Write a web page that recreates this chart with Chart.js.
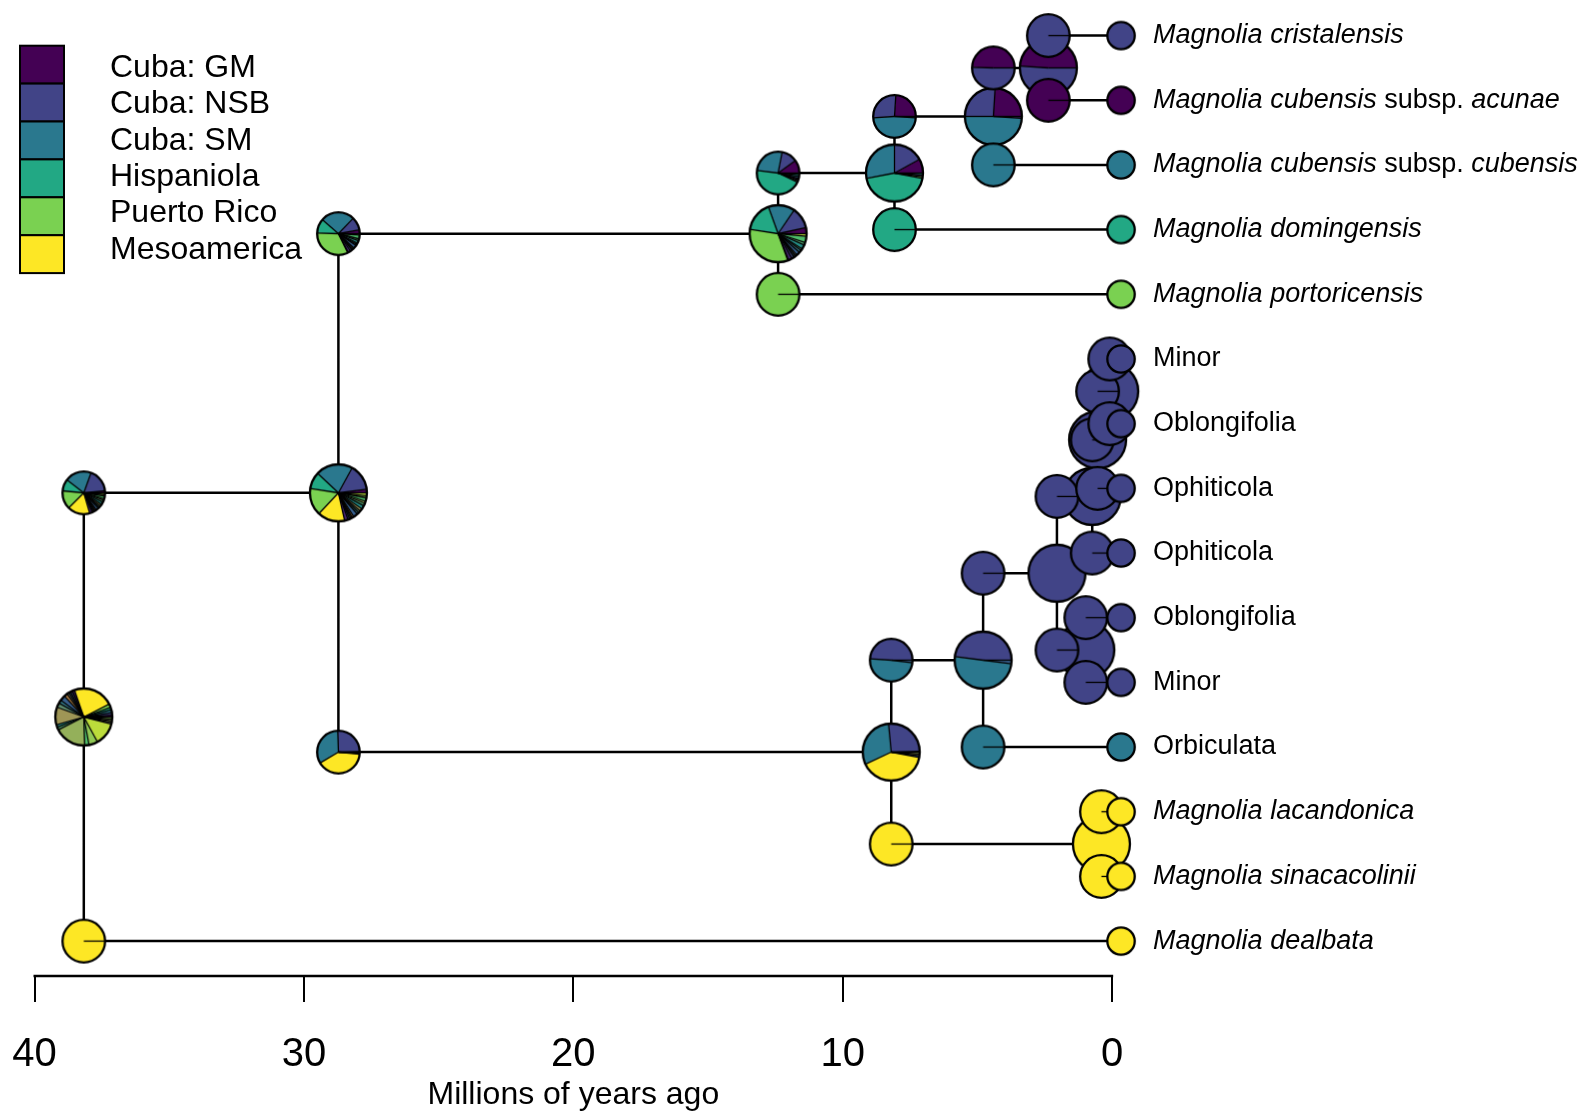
<!DOCTYPE html>
<html>
<head>
<meta charset="utf-8">
<script src="https://cdn.jsdelivr.net/npm/chart.js@4/dist/chart.umd.min.js"></script>
<style>
  html, body { margin: 0; padding: 0; background: #fff; }
  canvas { display: block; }
</style>
</head>
<body>
<canvas id="c" width="1585" height="1113"></canvas>
<script>
// areas (legend order) and their colours
var areaKeys = ["GM", "NSB", "SM", "Hisp", "PR", "Meso"];
var areaNames = ["Cuba: GM", "Cuba: NSB", "Cuba: SM", "Hispaniola", "Puerto Rico", "Mesoamerica"];
var areaColors = ["#440154", "#414487", "#2A788E", "#22A884", "#7AD151", "#FDE725"];

// tips, top to bottom; label pieces are [text, italic]
var tipLabels = [
  [["Magnolia cristalensis", 1]],
  [["Magnolia cubensis", 1], [" subsp. ", 0], ["acunae", 1]],
  [["Magnolia cubensis", 1], [" subsp. ", 0], ["cubensis", 1]],
  [["Magnolia domingensis", 1]],
  [["Magnolia portoricensis", 1]],
  [["Minor", 0]],
  [["Oblongifolia", 0]],
  [["Ophiticola", 0]],
  [["Ophiticola", 0]],
  [["Oblongifolia", 0]],
  [["Minor", 0]],
  [["Orbiculata", 0]],
  [["Magnolia lacandonica", 1]],
  [["Magnolia sinacacolinii", 1]],
  [["Magnolia dealbata", 1]]
];
var tipStates = ["NSB", "GM", "SM", "Hisp", "PR", "NSB", "NSB", "NSB", "NSB", "NSB", "NSB", "SM", "Meso", "Meso", "Meso"];
var tipAge = -0.33;

// internal nodes (age in Ma) and their two children (node name or tip index)
var nodeNames = ["root", "A", "B", "C", "D", "E", "F", "G", "H", "I", "J", "K", "L1", "L2"];
var nodeAges = [38.17, 28.72, 12.40, 8.08, 4.41, 2.37, 8.20, 4.79, 0.40, 2.05, 0.74, 0.98, 0.54, 0.09];
var nodeChildren = [["A", 14], ["B", "F"], ["C", 4], ["D", 3], ["E", 2], [0, 1], ["G", "H"],
                    ["I", 11], [12, 13], ["J", "K"], ["L1", 8], [9, 10], ["L2", 7], [5, 6]];

// ancestral range probabilities at nodes
var nodeProbs = [
  {GM: .01, NSB: .015, SM: .015, Hisp: .015, PR: .02, Meso: .228,
   "GM+NSB": .012, "GM+SM": .012, "GM+Hisp": .01, "GM+PR": .012, "GM+Meso": .02,
   "NSB+SM": .03, "NSB+Hisp": .02, "NSB+PR": .025, "NSB+Meso": .10,
   "SM+Hisp": .015, "SM+PR": .015, "SM+Meso": .18, "Hisp+PR": .025, "Hisp+Meso": .05, "PR+Meso": .13,
   "NSB+SM+Meso": .01, "NSB+PR+Meso": .01, "SM+PR+Meso": .01, "Hisp+PR+Meso": .01},
  {GM: .02, NSB: .15, SM: .21, Hisp: .095, PR: .155, Meso: .155,
   "GM+NSB": .02, "GM+SM": .01, "GM+Hisp": .008, "GM+PR": .008, "GM+Meso": .01,
   "NSB+SM": .025, "NSB+Hisp": .012, "NSB+PR": .012, "NSB+Meso": .015,
   "SM+Hisp": .02, "SM+PR": .015, "SM+Meso": .012, "Hisp+PR": .02, "Hisp+Meso": .012, "PR+Meso": .016},
  {GM: .035, NSB: .12, SM: .15, Hisp: .17, PR: .33, Meso: .005,
   "GM+NSB": .02, "GM+SM": .015, "GM+Hisp": .01, "GM+PR": .01, "NSB+SM": .02, "NSB+Hisp": .015,
   "NSB+PR": .01, "SM+Hisp": .025, "SM+PR": .015, "Hisp+PR": .035, "PR+Meso": .015},
  {GM: .08, NSB: .17, SM: .28, Hisp: .44, PR: .01, "GM+NSB": .01, "SM+Hisp": .01},
  {GM: .24, NSB: .26, SM: .49, "GM+NSB": .01},
  {GM: .49, NSB: .51},
  {GM: .005, NSB: .26, SM: .305, Meso: .40, "NSB+SM": .01, "NSB+Meso": .01, "SM+Meso": .01},
  {NSB: .48, SM: .50, "NSB+SM": .02},
  "Meso", "NSB", "NSB", "NSB", "NSB", "NSB"
];

// probabilities just after each split (corners), same order as nodeChildren
var cornerProbs = [
  [{GM: .015, NSB: .18, SM: .20, Hisp: .09, PR: .14, Meso: .17,
    "GM+NSB": .02, "GM+SM": .01, "GM+Hisp": .008, "GM+PR": .008, "GM+Meso": .01,
    "NSB+SM": .02, "NSB+Hisp": .01, "NSB+PR": .012, "NSB+Meso": .015,
    "SM+Hisp": .02, "SM+PR": .015, "SM+Meso": .012, "Hisp+PR": .02, "Hisp+Meso": .012, "PR+Meso": .013}, "Meso"],
  [{GM: .03, NSB: .10, SM: .26, Hisp: .11, PR: .33, Meso: .005,
    "GM+NSB": .02, "GM+SM": .015, "GM+Hisp": .01, "GM+PR": .01, "NSB+SM": .025, "NSB+Hisp": .01,
    "NSB+PR": .01, "SM+Hisp": .02, "SM+PR": .015, "Hisp+PR": .03, "PR+Meso": .01},
   {GM: .005, NSB: .25, SM: .33, Meso: .40, "NSB+SM": .005, "NSB+Meso": .005, "SM+Meso": .005}],
  [{GM: .10, NSB: .12, SM: .26, Hisp: .45, PR: .01, "GM+NSB": .01, "GM+SM": .01, "NSB+SM": .015, "SM+Hisp": .015, "Hisp+PR": .01}, "PR"],
  [{GM: .24, NSB: .27, SM: .48, "GM+NSB": .01}, "Hisp"],
  [{GM: .495, NSB: .505}, "SM"],
  ["NSB", "GM"],
  [{NSB: .49, SM: .49, "NSB+SM": .02}, "Meso"],
  ["NSB", "SM"],
  ["Meso", "Meso"],
  ["NSB", "NSB"], ["NSB", "NSB"], ["NSB", "NSB"], ["NSB", "NSB"], ["NSB", "NSB"]
];

var tickValues = [0, 10, 20, 30, 40];
var axisTitle = "Millions of years ago";

// ---- state order and colours (singles, pairs, triples) ----
var stateOrder = [];
var n = areaKeys.length;
for (var i = 0; i < n; i++) stateOrder.push([i]);
for (var i = 0; i < n; i++) for (var j = i + 1; j < n; j++) stateOrder.push([i, j]);
for (var i = 0; i < n; i++) for (var j = i + 1; j < n; j++) for (var k = j + 1; k < n; k++) stateOrder.push([i, j, k]);

function hexRgb(h) { return [parseInt(h.substr(1, 2), 16), parseInt(h.substr(3, 2), 16), parseInt(h.substr(5, 2), 16)]; }
function stateColor(idx) {
  var s = [0, 0, 0];
  idx.forEach(function(a) { var c = hexRgb(areaColors[a]); s[0] += c[0]; s[1] += c[1]; s[2] += c[2]; });
  return "rgb(" + s.map(function(v) { return Math.round(v / idx.length); }).join(",") + ")";
}
function stateKey(idx) { return idx.map(function(a) { return areaKeys[a]; }).join("+"); }

var NODE_R = 28.5, CORNER_R = 21.3, TIP_R = 13.7;

function pieCanvas(probs, r, markStart) {
  if (typeof probs === "string") { var o = {}; o[probs] = 1; probs = o; }
  var size = Math.ceil(2 * r + 6);
  var c = document.createElement("canvas");
  c.width = c.height = size;
  var g = c.getContext("2d");
  var cx = size / 2, cy = size / 2;
  var parts = [];
  stateOrder.forEach(function(idx) {
    var p = probs[stateKey(idx)];
    if (p > 0) parts.push([idx, p]);
  });
  var total = parts.reduce(function(s, q) { return s + q[1]; }, 0);
  var a = 0;
  parts.forEach(function(q) {
    var b = a + q[1] / total * Math.PI * 2;
    g.beginPath();
    g.moveTo(cx, cy);
    g.arc(cx, cy, r, -a, -b, true);
    g.closePath();
    g.fillStyle = stateColor(q[0]);
    g.fill();
    a = b;
  });
  g.strokeStyle = "#000";
  g.lineWidth = 1.3;
  if (parts.length > 1 || markStart) {
    a = 0;
    parts.forEach(function(q) {
      g.beginPath();
      g.moveTo(cx, cy);
      g.lineTo(cx + r * Math.cos(a), cy - r * Math.sin(a));
      g.stroke();
      a += q[1] / total * Math.PI * 2;
    });
  }
  g.lineWidth = 2.3;
  g.beginPath();
  g.arc(cx, cy, r, 0, Math.PI * 2);
  g.stroke();
  return c;
}

// ---- tree layout (tips evenly spaced, nodes at mean of children) ----
function nodeIndex(name) { return nodeNames.indexOf(name); }
function yOf(ch) {
  if (typeof ch === "number") return ch;
  var kids = nodeChildren[nodeIndex(ch)];
  return (yOf(kids[0]) + yOf(kids[1])) / 2;
}
function ageOf(ch) { return typeof ch === "number" ? tipAge : nodeAges[nodeIndex(ch)]; }

var edgeData = [], nodePts = [], nodeImgs = [], cornerPts = [], cornerImgs = [], tipPts = [], tipImgs = [];
nodeNames.forEach(function(name, ni) {
  var ny = yOf(name), na = nodeAges[ni];
  nodePts.push({x: na, y: ny});
  nodeImgs.push(pieCanvas(nodeProbs[ni], NODE_R, false));
  nodeChildren[ni].forEach(function(ch, ci) {
    var cyv = yOf(ch);
    edgeData.push({x: na, y: ny}, {x: na, y: cyv}, {x: ageOf(ch), y: cyv}, {x: NaN, y: NaN});
    cornerPts.push({x: na, y: cyv});
    cornerImgs.push(pieCanvas(cornerProbs[ni][ci], CORNER_R, true));
  });
});
tipStates.forEach(function(s, ti) {
  tipPts.push({x: tipAge, y: ti});
  tipImgs.push(pieCanvas(s, TIP_R, false));
});

var FONT = "'Liberation Sans', Arial, sans-serif";

var treeDecor = {
  id: "treeDecor",
  afterDraw: function(chart) {
    var ctx = chart.ctx, xs = chart.scales.x, ys = chart.scales.y, area = chart.chartArea;
    ctx.save();
    // axis line between first and last tick
    ctx.strokeStyle = "#000";
    ctx.lineWidth = 2.5;
    ctx.beginPath();
    ctx.moveTo(xs.getPixelForValue(40) - 1, area.bottom);
    ctx.lineTo(xs.getPixelForValue(0) + 1, area.bottom);
    ctx.stroke();
    // axis title centred on the axis
    ctx.fillStyle = "#000";
    ctx.font = "32px " + FONT;
    ctx.textAlign = "center";
    ctx.textBaseline = "middle";
    ctx.fillText(axisTitle, xs.getPixelForValue(20), area.bottom + 119);
    // tip labels
    ctx.textAlign = "left";
    tipLabels.forEach(function(parts, ti) {
      var x = xs.getPixelForValue(tipAge) + 32;
      var y = ys.getPixelForValue(ti);
      parts.forEach(function(p) {
        ctx.font = (p[1] ? "italic " : "") + "27px " + FONT;
        ctx.fillText(p[0], x, y);
        x += ctx.measureText(p[0]).width;
      });
    });
    // legend
    var bx = 20, by = 45.7, bw = 44, bh = 37.9;
    areaNames.forEach(function(name, i) {
      ctx.fillStyle = areaColors[i];
      ctx.fillRect(bx, by + i * bh, bw, bh);
      ctx.strokeStyle = "#000";
      ctx.lineWidth = 2;
      ctx.strokeRect(bx, by + i * bh, bw, bh);
      ctx.fillStyle = "#000";
      ctx.font = "32px " + FONT;
      ctx.fillText(name, 110, 68 + i * 36.4);
    });
    ctx.restore();
  }
};

new Chart(document.getElementById("c"), {
  type: "scatter",
  data: {
    datasets: [
      {data: edgeData, showLine: true, spanGaps: false, borderColor: "#000", borderWidth: 2.5,
       pointRadius: 0, order: 4, clip: false},
      {data: nodePts, pointStyle: nodeImgs, pointRadius: NODE_R, order: 3, clip: false},
      {data: cornerPts, pointStyle: cornerImgs, pointRadius: CORNER_R, order: 2, clip: false},
      {data: tipPts, pointStyle: tipImgs, pointRadius: TIP_R, order: 1, clip: false}
    ]
  },
  options: {
    responsive: false,
    devicePixelRatio: 1,
    animation: false,
    events: [],
    layout: {autoPadding: false, padding: {left: 34.5, right: 0, top: 0, bottom: 5}},
    plugins: {legend: {display: false}, tooltip: {enabled: false}},
    scales: {
      x: {
        type: "linear", reverse: true, min: -17.55, max: 40,
        afterBuildTicks: function(s) { s.ticks = tickValues.map(function(v) { return {value: v}; }); },
        border: {display: false},
        grid: {display: true, drawOnChartArea: false, drawTicks: true, tickLength: 26, color: "#000", lineWidth: 2},
        ticks: {padding: 29, color: "#000", font: {size: 40, family: FONT}, maxRotation: 0, autoSkip: false}
      },
      y: {type: "linear", reverse: true, min: -0.55, max: 14.54, display: false}
    }
  },
  plugins: [treeDecor]
});
</script>
</body>
</html>
